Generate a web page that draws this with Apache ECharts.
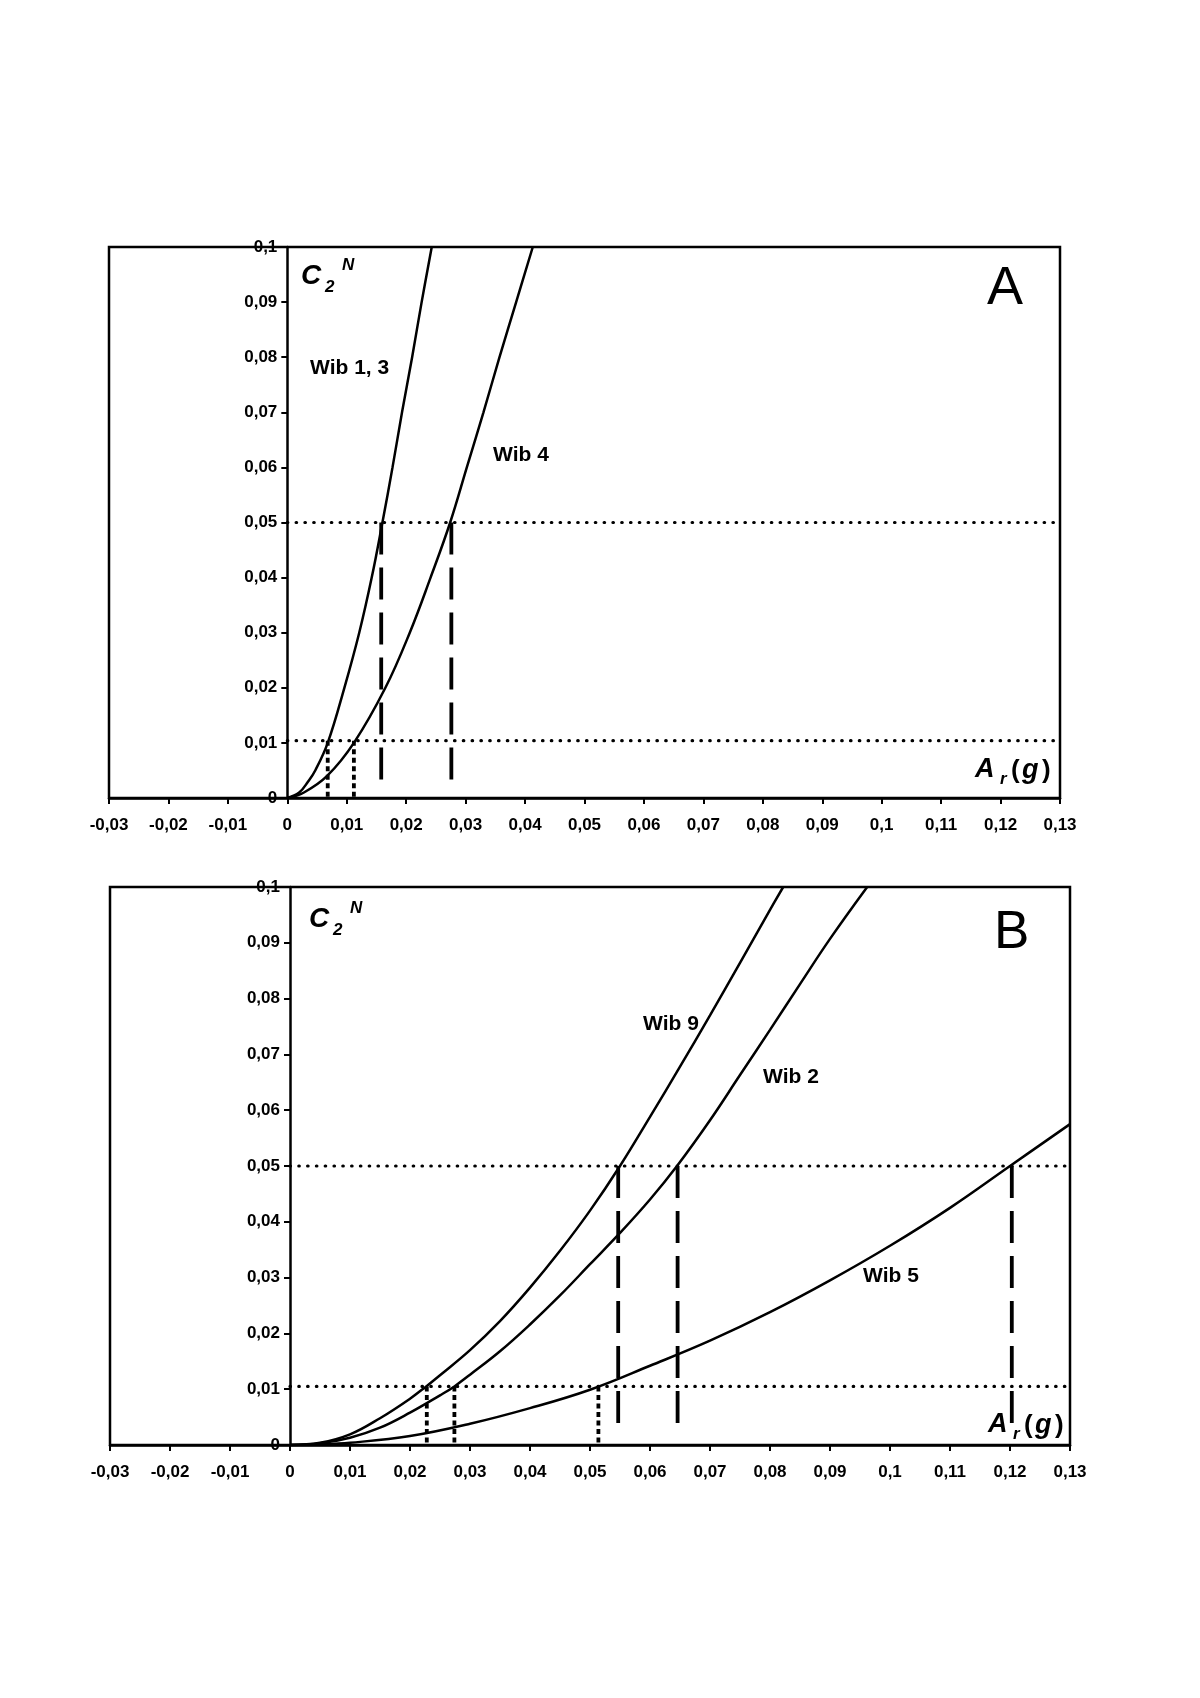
<!DOCTYPE html>
<html><head><meta charset="utf-8">
<script src="https://cdn.jsdelivr.net/npm/echarts@6/dist/echarts.min.js"></script>
<style>html,body{margin:0;padding:0;background:#fff}#c{width:1200px;height:1698px}</style>
</head><body><div id="c"></div>
<script>
// ---- tick labels ----
const xTickLabels = ['-0,03','-0,02','-0,01','0','0,01','0,02','0,03','0,04','0,05','0,06','0,07','0,08','0,09','0,1','0,11','0,12','0,13'];
const yTickLabels = ['0','0,01','0,02','0,03','0,04','0,05','0,06','0,07','0,08','0,09','0,1'];

// ---- panel A curves ----
const wib13X = [0, 0.002, 0.0035, 0.0047, 0.0068, 0.0096, 0.0121, 0.0142, 0.0160, 0.0177, 0.0193, 0.0210, 0.0226, 0.0243];
const wib13Y = [0, 0.001, 0.003, 0.005, 0.01, 0.02, 0.03, 0.04, 0.05, 0.06, 0.07, 0.08, 0.09, 0.1];
const wib4X  = [0, 0.0028, 0.0067, 0.0112, 0.0165, 0.0206, 0.0241, 0.0274, 0.0302, 0.0330, 0.0357, 0.0385, 0.0413];
const wib4Y  = [0, 0.001, 0.004, 0.01, 0.02, 0.03, 0.04, 0.05, 0.06, 0.07, 0.08, 0.09, 0.1];

// ---- panel B curves ----
const wib9X = [0, 0.005, 0.01, 0.015, 0.02, 0.0227, 0.025, 0.03, 0.035, 0.04, 0.045, 0.05, 0.055, 0.06, 0.065, 0.07, 0.075, 0.08, 0.0822];
const wib9Y = [0, 0.0004, 0.0019, 0.0048, 0.0083, 0.0105, 0.0125, 0.0170, 0.0222, 0.0282, 0.0348, 0.0420, 0.0500, 0.0588, 0.0678, 0.0770, 0.0864, 0.0959, 0.1];
const wib2X = [0, 0.005, 0.01, 0.015, 0.02, 0.025, 0.0274, 0.03, 0.035, 0.04, 0.045, 0.05, 0.055, 0.06, 0.0645, 0.07, 0.075, 0.08, 0.085, 0.09, 0.0962];
const wib2Y = [0, 0.0003, 0.0013, 0.0031, 0.0058, 0.0089, 0.0105, 0.0126, 0.0168, 0.0216, 0.0268, 0.0324, 0.0380, 0.0440, 0.0500, 0.0582, 0.0663, 0.0744, 0.0826, 0.0907, 0.1];
const wib5X = [0, 0.005, 0.01, 0.02, 0.03, 0.04, 0.05, 0.06, 0.07, 0.08, 0.09, 0.1, 0.11, 0.12, 0.13];
const wib5Y = [0, 0.0001, 0.0004, 0.0016, 0.0038, 0.0066, 0.0099, 0.0142, 0.0187, 0.0238, 0.0295, 0.0357, 0.0425, 0.0500, 0.0575];

// ---- reference lines ----
const levelsA = [0.05, 0.0104];
const dashA = [0.0158, 0.0276];
const dotA = [0.0068, 0.0112];
const levelsB = [0.05, 0.0105];
const dashB = [0.0547, 0.0646, 0.1203];
const dotB = [0.0228, 0.0274, 0.0514];
const dashBottom = 0.0016;
const levelStartX = 0, levelEndX = 0.13;

const X_MIN = -0.03, X_MAX = 0.13;
const FONT = '"Liberation Sans", Arial, Helvetica, sans-serif';
const zip = (xs, ys) => xs.map((x, i) => [x, ys[i]]);

const grids = [
  { left: 109, top: 247, width: 951, height: 551 },
  { left: 110, top: 887, width: 960, height: 558 }
];

function xAxisCfg(gi) {
  return {
    gridIndex: gi, type: 'value', min: X_MIN, max: X_MAX, interval: 0.01,
    axisLine: { show: true, onZero: false, lineStyle: { color: '#000', width: 2.5 } },
    axisTick: { show: true, length: 6, lineStyle: { color: '#000', width: 2 } },
    splitLine: { show: false },
    axisLabel: {
      margin: 19, color: '#000', fontFamily: FONT, fontWeight: 'bold', fontSize: 17,
      formatter: v => xTickLabels[Math.round((v - X_MIN) / 0.01)]
    }
  };
}
function yAxisCfg(gi) {
  // place the y axis on x = 0 (inside the frame) by offsetting it from the grid's left edge
  const off = -((0 - X_MIN) / (X_MAX - X_MIN)) * grids[gi].width;
  return {
    gridIndex: gi, type: 'value', min: 0, max: 0.1, interval: 0.01,
    position: 'left', offset: off,
    axisLine: { show: true, onZero: false, lineStyle: { color: '#000', width: 2.5 } },
    axisTick: { show: true, length: 6, lineStyle: { color: '#000', width: 2 } },
    splitLine: { show: false },
    axisLabel: {
      margin: 10, color: '#000', fontFamily: FONT, fontWeight: 'bold', fontSize: 17,
      formatter: v => yTickLabels[Math.round(v / 0.01)]
    }
  };
}
function curve(gi, xs, ys) {
  return {
    type: 'line', xAxisIndex: gi, yAxisIndex: gi, data: zip(xs, ys),
    showSymbol: false, symbol: 'none', smooth: 0.4,
    lineStyle: { color: '#000', width: 2.5 }, z: 5, silent: true
  };
}
function seg(gi, pts, style) {
  return {
    type: 'line', xAxisIndex: gi, yAxisIndex: gi, data: pts,
    showSymbol: false, symbol: 'none', silent: true, z: 4,
    lineStyle: Object.assign({ color: '#000' }, style)
  };
}
const hDot = { width: 3.2, type: [0.5, 8.3], cap: 'round' };
const vDot = { width: 3.8, type: [5, 3.5], cap: 'butt' };
const vDash = { width: 3.8, type: [32, 13], cap: 'butt' };

function refSeries(gi, levels, dashes, dots) {
  const out = [];
  levels.forEach(l => out.push(seg(gi, [[levelStartX, l], [levelEndX, l]], hDot)));
  dashes.forEach(x => out.push(seg(gi, [[x, levels[0]], [x, dashBottom]], vDash)));
  dots.forEach(x => out.push(seg(gi, [[x, levels[1]], [x, 0]], vDot)));
  return out;
}

function t(x, y, s, size, weight, style) {
  return { type: 'text', x: x, y: y, z: 20, silent: true,
    style: { text: s, fill: '#000', font: (style || 'normal') + ' ' + (weight || 'bold') + ' ' + size + 'px ' + FONT,
      textAlign: 'left', textVerticalAlign: 'middle', verticalAlign: 'middle' } };
}
function c2n(dx, dy) {
  return [
    t(301 + dx, 276 + dy, 'C', 28, 'bold', 'italic'),
    t(325 + dx, 287 + dy, '2', 17, 'bold', 'italic'),
    t(342 + dx, 265 + dy, 'N', 17, 'bold', 'italic')
  ];
}
function arLabel(x, y) {
  return [
    t(x, y, 'A', 27, 'bold', 'italic'),
    t(x + 25, y + 9, 'r', 17, 'bold', 'italic'),
    t(x + 36, y + 1, '(', 26, 'bold', 'normal'),
    t(x + 47, y + 1, 'g', 27, 'bold', 'italic'),
    t(x + 67, y + 1, ')', 26, 'bold', 'normal')
  ];
}

const graphics = [].concat(
  c2n(0, 0),
  c2n(8, 643),
  [
    t(310, 368, 'Wib 1, 3', 21),
    t(493, 455, 'Wib 4', 21),
    t(987, 289, 'A', 54, 'normal'),
    t(643, 1024, 'Wib 9', 21),
    t(763, 1077, 'Wib 2', 21),
    t(863, 1276, 'Wib 5', 21),
    t(994, 933, 'B', 53, 'normal')
  ],
  arLabel(975, 770),
  arLabel(988, 1425)
);

const chart = echarts.init(document.getElementById('c'), null, { renderer: 'canvas' });
chart.setOption({
  backgroundColor: '#fff',
  animation: false,
  grid: grids.map(g => Object.assign({ show: true, borderColor: '#000', borderWidth: 2.5, backgroundColor: 'transparent' }, g)),
  xAxis: [xAxisCfg(0), xAxisCfg(1)],
  yAxis: [yAxisCfg(0), yAxisCfg(1)],
  series: [].concat(
    [curve(0, wib13X, wib13Y), curve(0, wib4X, wib4Y)],
    refSeries(0, levelsA, dashA, dotA),
    [curve(1, wib9X, wib9Y), curve(1, wib2X, wib2Y), curve(1, wib5X, wib5Y)],
    refSeries(1, levelsB, dashB, dotB)
  ),
  graphic: graphics
});
</script></body></html>
